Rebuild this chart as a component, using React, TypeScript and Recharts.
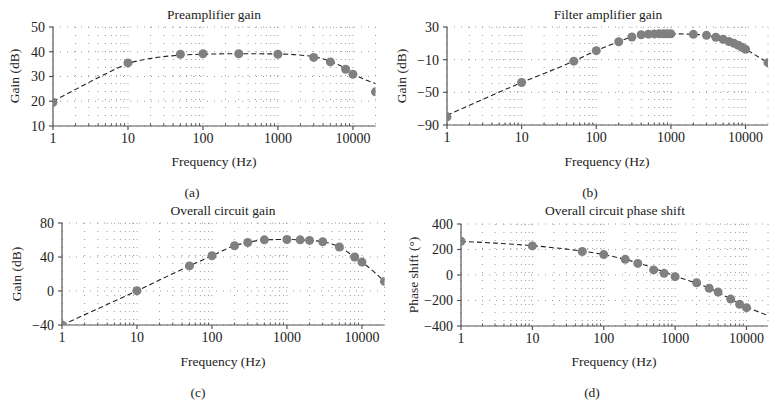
import React from 'react';
import { ComposedChart, Line, XAxis, YAxis, CartesianGrid } from 'recharts';

const FONT = '"Liberation Serif", "Times New Roman", serif';

// ---- shared axis ticks ----
const xMajorTicks = [1, 10, 100, 1000, 10000];
const xAllTicks = [
  1, 2, 3, 4, 5, 6, 7, 8, 9,
  10, 20, 30, 40, 50, 60, 70, 80, 90,
  100, 200, 300, 400, 500, 600, 700, 800, 900,
  1000, 2000, 3000, 4000, 5000, 6000, 7000, 8000, 9000,
  10000, 20000,
];

// ---- (a) Preamplifier gain ----
const preFreq = [1, 10, 50, 100, 300, 1000, 3000, 5000, 8000, 10000, 20000];
const preGain = [19.6, 35.5, 39, 39.2, 39.2, 39, 37.7, 35.9, 32.9, 30.9, 23.8];
const preCurveFreq = [1, 2, 5, 10, 20, 50, 100, 300, 1000, 3000, 5000, 8000, 10000, 20000];
const preCurveGain = [20, 24.8, 31, 35.2, 37.3, 38.6, 39, 39.2, 39.1, 38, 36.1, 33.2, 31.2, 27.2];
const preTicks = [10, 20, 30, 40, 50];

// ---- (b) Filter amplifier gain ----
const filFreq = [1, 10, 50, 100, 200, 300, 400, 500, 600, 700, 800, 900, 1000, 2000, 3000, 4000, 5000, 6000, 7000, 8000, 9000, 10000, 20000];
const filGain = [-80, -38, -11.8, 1, 12, 17.8, 20.5, 21.2, 21.5, 21.6, 21.6, 21.6, 21.6, 21, 19.8, 17.5, 15, 12.3, 10, 7.6, 5.1, 2.7, -13.7];
const filCurveFreq = [1, 10, 50, 100, 200, 300, 400, 500, 700, 1000, 2000, 3000, 4000, 5000, 6000, 7000, 8000, 9000, 10000, 20000];
const filCurveGain = [-78, -38, -11.8, 1, 12, 17.8, 20.5, 21.2, 21.6, 21.6, 21, 19.8, 17.5, 15, 12.3, 10, 7.6, 5.1, 2.7, -13.7];
const filTicks = [-90, -50, -10, 30];

// ---- (c) Overall circuit gain ----
const ovFreq = [1, 10, 50, 100, 200, 300, 500, 1000, 1500, 2000, 3000, 5000, 8000, 10000, 20000];
const ovGain = [-40, 0.3, 29.5, 41.5, 53.3, 57, 60.2, 60.6, 60.2, 59.5, 58, 51.8, 40, 34, 11.3];
const ovTicks = [-40, 0, 40, 80];

// ---- (d) Overall circuit phase shift ----
const phFreq = [1, 10, 50, 100, 200, 300, 500, 700, 1000, 2000, 3000, 4000, 6000, 8000, 10000];
const phDeg = [265, 228, 184, 160, 123, 91, 40, 13, -13, -61, -104, -133, -189, -229, -256];
const phCurveFreq = [1, 3, 10, 30, 100, 300, 1000, 3000, 10000, 20000];
const phCurveDeg = [264, 250, 230, 203, 160, 95, -8, -103, -250, -318];
const phTicks = [-400, -200, 0, 200, 400];

const toRows = (fs: number[], vs: number[]) => fs.map((f, i) => ({ f, v: vs[i] }));

const AXIS = '#555';
const GRID = '#9c9c9c';
const TICK_FS = 14;

const XTick = (props: any) => {
  const { x, y, payload } = props;
  const v = payload.value;
  const major = xMajorTicks.includes(v);
  return (
    <g>
      {major ? (
        <line x1={x} x2={x} y1={y} y2={y + 4} stroke={AXIS} strokeWidth={1.2} />
      ) : v < 20000 ? (
        <line x1={x} x2={x} y1={y - 2.5} y2={y} stroke={AXIS} strokeWidth={1} />
      ) : null}
      {major && (
        <text x={x} y={y + 17} textAnchor="middle" fontFamily={FONT} fontSize={TICK_FS} fill="#222">
          {v}
        </text>
      )}
    </g>
  );
};

const fmtY = (v: number) => String(v).replace('-', '\u2212');

type PanelProps = {
  left: number; top: number;
  margin: { top: number; right: number; bottom: number; left: number };
  yDomain: [number, number];
  yTicks: number[];
  points: { f: number; v: number }[];
  curve: { f: number; v: number }[];
};

const Panel = ({ left, top, margin, yDomain, yTicks, points, curve }: PanelProps) => (
  <div style={{ position: 'absolute', left, top, width: 390, height: 200 }}>
    <ComposedChart width={390} height={200} margin={margin}>
      <CartesianGrid horizontal={false} vertical={true} stroke={GRID} strokeDasharray="1 7" />
      <CartesianGrid horizontal={true} vertical={false} stroke={GRID} strokeDasharray="1 6" />
      <XAxis
        dataKey="f"
        type="number"
        scale="log"
        domain={[1, 20000]}
        ticks={xAllTicks}
        interval={0}
        tickSize={0}
        tickMargin={0}
        tickLine={false}
        tick={<XTick />}
        height={30}
        stroke={AXIS}
        strokeWidth={1.2}
        allowDataOverflow
      />
      <YAxis
        type="number"
        domain={yDomain}
        ticks={yTicks}
        interval={0}
        width={40}
        tickSize={4}
        tickMargin={4}
        tickFormatter={fmtY}
        tick={{ fontFamily: FONT, fontSize: TICK_FS, fill: '#222' }}
        stroke={AXIS}
        strokeWidth={1.2}
        allowDataOverflow
      />
      <Line
        data={curve}
        dataKey="v"
        type="monotone"
        stroke="#222"
        strokeWidth={1.1}
        strokeDasharray="5 3"
        dot={false}
        activeDot={false}
        isAnimationActive={false}
      />
      <Line
        data={points}
        dataKey="v"
        stroke="none"
        dot={{ r: 4.5, fill: '#808080', stroke: 'none' }}
        activeDot={false}
        isAnimationActive={false}
      />
    </ComposedChart>
  </div>
);

const T = (p: { x: number; y: number; children: React.ReactNode; rot?: boolean }) =>
  p.rot ? (
    <text transform={`translate(${p.x},${p.y}) rotate(-90)`} textAnchor="middle" fontFamily={FONT} fontSize={13.5} fill="#222">
      {p.children}
    </text>
  ) : (
    <text x={p.x} y={p.y} textAnchor="middle" fontFamily={FONT} fontSize={13.5} fill="#222">
      {p.children}
    </text>
  );

export default function App() {
  return (
    <div style={{ position: 'absolute', left: 0, top: 0, width: 780, height: 400, background: '#fff' }}>
      <Panel
        left={0} top={0}
        margin={{ top: 27, right: 14.5, bottom: 44, left: 13 }}
        yDomain={[10, 50]} yTicks={preTicks}
        points={toRows(preFreq, preGain)}
        curve={toRows(preCurveFreq, preCurveGain)}
      />
      <Panel
        left={390} top={0}
        margin={{ top: 27, right: 12, bottom: 45, left: 17 }}
        yDomain={[-90, 30]} yTicks={filTicks}
        points={toRows(filFreq, filGain)}
        curve={toRows(filCurveFreq, filCurveGain)}
      />
      <Panel
        left={0} top={200}
        margin={{ top: 23, right: 5.5, bottom: 45, left: 22 }}
        yDomain={[-40, 80]} yTicks={ovTicks}
        points={toRows(ovFreq, ovGain)}
        curve={toRows(ovFreq, ovGain)}
      />
      <Panel
        left={390} top={200}
        margin={{ top: 24, right: 12, bottom: 44, left: 31 }}
        yDomain={[-400, 400]} yTicks={phTicks}
        points={toRows(phFreq, phDeg)}
        curve={toRows(phCurveFreq, phCurveDeg)}
      />
      <svg width={780} height={400} style={{ position: 'absolute', left: 0, top: 0, pointerEvents: 'none' }}>
        <T x={214} y={18.5}>Preamplifier gain</T>
        <T x={608} y={18.5}>Filter amplifier gain</T>
        <T x={223} y={215}>Overall circuit gain</T>
        <T x={615} y={215}>Overall circuit phase shift</T>

        <T x={214} y={166}>Frequency (Hz)</T>
        <T x={607} y={166}>Frequency (Hz)</T>
        <T x={223} y={365.5}>Frequency (Hz)</T>
        <T x={614} y={365.5}>Frequency (Hz)</T>

        <T x={192} y={197}>(a)</T>
        <T x={590} y={197}>(b)</T>
        <T x={198} y={397}>(c)</T>
        <T x={592} y={397}>(d)</T>

        <T x={18.5} y={76} rot>Gain (dB)</T>
        <T x={406} y={76} rot>Gain (dB)</T>
        <T x={20.5} y={274} rot>Gain (dB)</T>
        <T x={417.5} y={275} rot>Phase shift (°)</T>
      </svg>
    </div>
  );
}
